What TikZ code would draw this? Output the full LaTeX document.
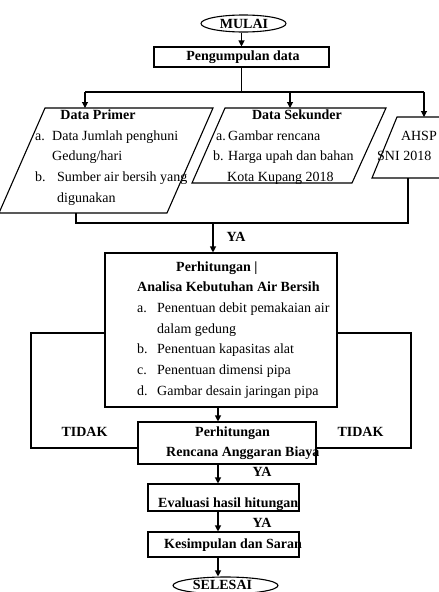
\documentclass[tikz,border=0pt]{standalone}
\usepackage{fontspec}
\setmainfont{Liberation Serif}
\usetikzlibrary{arrows.meta,shapes.geometric}
\newcommand{\fsz}{\fontsize{14}{20.7}\selectfont}
\begin{document}
\begin{tikzpicture}[x=1pt,y=-1pt,
  ln/.style={draw=black,line width=1.1pt},
  arr/.style={draw=black,line width=1.1pt,-{Triangle[length=6pt,width=6pt]}},
  boxst/.style={draw=black,line width=1.1pt,rectangle,inner sep=0pt},
  term/.style={draw=black,line width=1.1pt,ellipse,inner sep=0pt},
  bt/.style={font=\fsz\bfseries,inner sep=0pt},
  rt/.style={font=\fsz,inner sep=0pt},
]
\useasboundingbox (0,0) rectangle (439,592);

% terminators and boxes
\node[term,minimum width=85pt,minimum height=17pt] (mulai) at (243.5,23.5) {};
\node[bt,anchor=base] (tmulai) at (244,28) {MULAI};
\node[boxst,minimum width=175pt,minimum height=20pt] (peng) at (241.5,57) {};
\node[bt,anchor=base] (tpeng) at (243,60.5) {Pengumpulan data};

% parallelograms
\coordinate (p1) at (45,108); \coordinate (p2) at (213,108);
\coordinate (p3) at (167,213); \coordinate (p4) at (-1,213);
\draw[ln] (p1) -- (p2) -- (p3) -- (p4) -- cycle;
\coordinate (s1) at (225,108); \coordinate (s2) at (386,108);
\coordinate (s3) at (352,183); \coordinate (s4) at (192,183);
\draw[ln] (s1) -- (s2) -- (s3) -- (s4) -- cycle;
\coordinate (a1) at (397,117); \coordinate (a2) at (470,117);
\coordinate (a3) at (445,178); \coordinate (a4) at (372,178);
\draw[ln] (a1) -- (a2) -- (a3) -- (a4) -- cycle;

\node[bt,anchor=base] (tprim) at (98,119) {Data Primer};
\node[rt,anchor=base west] (lprim) at (35,140) {\begin{tabular}[t]{@{}l@{}}
\makebox[17pt][l]{a.}Data Jumlah penghuni\\
\hspace*{17pt}Gedung/hari\\
\makebox[22pt][l]{b.}Sumber air bersih yang\\
\hspace*{22pt}digunakan
\end{tabular}};
\node[bt,anchor=base] (tsek) at (297,119) {Data Sekunder};
\node[rt,anchor=base west] (lsek) at (213,140) {\begin{tabular}[t]{@{}l@{}}
\hspace*{3pt}\makebox[12pt][l]{a.}Gambar rencana\\
\makebox[15pt][l]{b.}Harga upah dan bahan\\
\hspace*{14pt}Kota Kupang 2018
\end{tabular}};
\node[rt,anchor=base east] (tahsp) at (437,140) {AHSP};
\node[rt,anchor=base west] (tsni) at (377,160) {SNI 2018};

% split connectors
\coordinate (sp) at (241.5,92);
\coordinate (spL) at (85,92); \coordinate (spM) at (290,92); \coordinate (spR) at (424,92);
\draw[arr] (mulai.south -| peng.north) -- (peng.north);
\draw[ln] (peng.south) -- (sp);
\draw[ln] (spL) -- (spR);
\draw[arr] (spL) -- (spL |- p1);
\draw[arr] (spM) -- (spM |- s1);
\draw[arr] (spR) -- (spR |- a1);

% analysis box
\node[boxst,minimum width=232pt,minimum height=154pt] (anal) at (221,330) {};
\node[rt,anchor=base west] (tanal) at (137,271) {\begin{tabular}[t]{@{}l@{}}
\hspace*{39pt}\textbf{Perhitungan |}\\
\textbf{Analisa Kebutuhan Air Bersih}\\
\makebox[20pt][l]{a.}Penentuan debit pemakaian air\\
\hspace*{20pt}dalam gedung\\
\makebox[20pt][l]{b.}Penentuan kapasitas alat\\
\makebox[20pt][l]{c.}Penentuan dimensi pipa\\
\makebox[20pt][l]{d.}Gambar desain jaringan pipa
\end{tabular}};

% join
\coordinate (pb) at (76,213); \coordinate (pj) at (76,223);
\coordinate (ab) at (408,178); \coordinate (aj) at (408,223);
\coordinate (mj) at (213,223);
\draw[ln] (pb) -- (pj) -- (aj) -- (ab);
\draw[arr] (mj) -- (anal.north -| mj);
\node[bt,anchor=base] (ya1) at (236,241) {YA};

% lower boxes
\node[boxst,minimum width=178pt,minimum height=42pt] (renc) at (227,443) {};
\node[bt,anchor=base west] (trenc) at (166,436) {\begin{tabular}[t]{@{}l@{}}
\hspace*{29pt}Perhitungan\\[-0.7pt]
Rencana Anggaran Biaya
\end{tabular}};
\node[boxst,minimum width=151pt,minimum height=27pt] (eval) at (223.5,497.5) {};
\node[bt,anchor=base west] (teval) at (158,507) {Evaluasi hasil hitungan};
\node[boxst,minimum width=151pt,minimum height=25pt] (kes) at (223.5,544.5) {};
\node[bt,anchor=base west] (tkes) at (164,548) {Kesimpulan dan Saran};
\node[term,minimum width=105pt,minimum height=17pt] (sel) at (225.5,585.5) {};
\node[bt,anchor=base] (tsel) at (222.5,589) {SELESAI};

\coordinate (ax) at (218,0);
\draw[arr] (anal.south -| ax) -- (renc.north -| ax);
\draw[arr] (renc.south -| ax) -- (eval.north -| ax);
\draw[arr] (eval.south -| ax) -- (kes.north -| ax);
\draw[arr] (kes.south -| ax) -- (sel.north -| ax);
\node[bt,anchor=base] (ya2) at (262,476) {YA};
\node[bt,anchor=base] (ya3) at (262,527) {YA};

% feedback lines
\coordinate (fbL) at (31,448); \coordinate (fbR) at (411,448);
\draw[ln] ([yshift=-3pt]anal.west) -| (fbL) -- (fbL -| renc.west);
\draw[ln] ([yshift=-3pt]anal.east) -| (fbR) -- (fbR -| renc.east);
\node[bt,anchor=base] (tidL) at (84.5,436) {TIDAK};
\node[bt,anchor=base] (tidR) at (360.5,436) {TIDAK};
\end{tikzpicture}
\end{document}
